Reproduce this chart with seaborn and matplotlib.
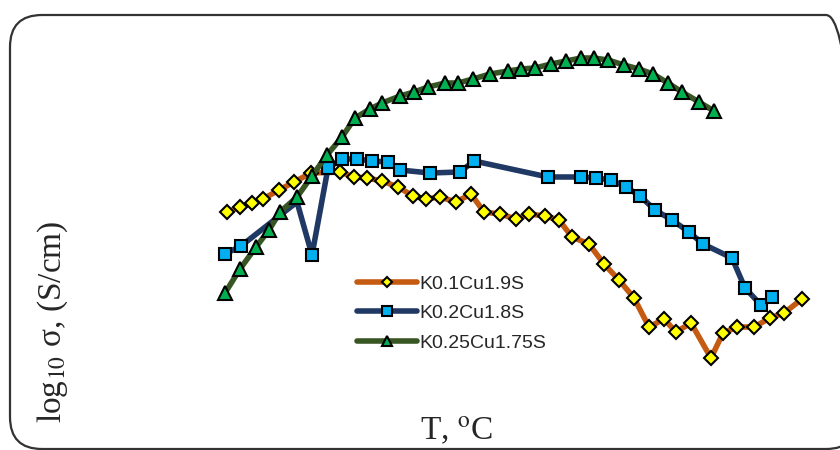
import matplotlib
matplotlib.use('Agg')
import matplotlib.pyplot as plt
import seaborn as sns
from matplotlib.patches import FancyBboxPatch

# values (no scale given, so arbitrary units: T position, log sigma level)
t_k01 = [227, 240, 252, 263, 279, 294, 311, 340, 354, 367, 382, 398, 413, 426, 440, 456, 471, 484, 500, 516,
         529, 545, 559, 572, 589, 604, 619, 634, 649, 664, 676, 691, 711, 723, 737, 754, 770, 784, 802]
s_k01 = [238, 243, 247, 251, 260, 268, 277, 278, 273, 272, 269, 263, 254, 251, 253, 248, 256, 238, 236, 231,
         236, 234, 230, 213, 206, 186, 170, 152, 123, 131, 118, 127, 92, 117, 123, 123, 132, 137, 151]

t_k02 = [225, 241, 297, 312, 328, 342, 357, 372, 388, 400, 430, 460, 474, 548, 581, 596, 611, 626, 640, 655,
         672, 689, 703, 732, 745, 761, 772]
s_k02 = [196, 204, 248, 195, 282, 291, 291, 289, 288, 280, 277, 278, 289, 273, 273, 272, 270, 263, 254, 240,
         230, 218, 206, 192, 162, 145, 153]

t_k025 = [225, 240, 256, 269, 280, 297, 312, 327, 342, 355, 370, 382, 400, 414, 428, 445, 458, 473, 490, 508,
          521, 535, 551, 566, 581, 594, 608, 624, 639, 653, 668, 682, 699, 714]
s_k025 = [157, 181, 203, 220, 238, 253, 274, 295, 313, 332, 341, 347, 354, 358, 363, 367, 367, 371, 376, 379,
          381, 382, 386, 389, 392, 392, 390, 385, 381, 376, 367, 358, 348, 339]

labels = ['K0.1Cu1.9S', 'K0.2Cu1.8S', 'K0.25Cu1.75S']

sns.set_theme(style='white')
plt.rcParams['font.family'] = ['Liberation Sans', 'DejaVu Sans']
plt.rcParams['mathtext.fontset'] = 'stix'

fig = plt.figure(figsize=(8.4, 4.5), dpi=100)
ax = fig.add_axes([0, 0, 1, 1])

common = dict(linewidth=4, markeredgecolor='black', markeredgewidth=1.5, estimator=None, sort=False)
sns.lineplot(x=t_k01, y=s_k01, ax=ax, color='#C55A11', marker='D', markersize=7,
             markerfacecolor='#FFFF00', label=labels[0], **common)
# third blue point sits hidden under a green triangle, so no marker there
blue_marks = [i for i in range(len(t_k02)) if i != 2]
sns.lineplot(x=t_k02, y=s_k02, ax=ax, color='#203864', marker='s', markersize=8.5,
             markerfacecolor='#00B0F0', markevery=blue_marks, label=labels[1], **common)
sns.lineplot(x=t_k025, y=s_k025, ax=ax, color='#375623', marker='^', markersize=9.5,
             markerfacecolor='#00B050', label=labels[2], **common)

ax.set_xlim(0, 840)
ax.set_ylim(0, 450)
ax.axis('off')

leg = ax.legend(loc='upper left', bbox_to_anchor=(0.425, 0.388), frameon=False, fontsize=14,
                handlelength=3.1, handletextpad=0.1, labelspacing=0.6, borderpad=0, borderaxespad=0)
for h, ms in zip(leg.legend_handles, [5, 6.5, 7]):
    h.set_markevery([1])
    h.set_markersize(ms)

# rounded frame around the chart area
frame = FancyBboxPatch((0.10, 0.01), 8.48, 4.34, boxstyle='round,pad=0,rounding_size=0.32',
                       transform=fig.dpi_scale_trans, fill=False, edgecolor='#333333', linewidth=1.6)
fig.patches.append(frame)

serif = ['Liberation Serif', 'DejaVu Serif']
fig.text(53 / 840, 1 - 322 / 450, r'log$_{10}$ σ, (S/cm)', rotation=90, ha='center', va='center',
         fontsize=24, family=serif)
fig.text(457 / 840, 1 - 430 / 450, r'T, $^{\mathrm{o}}$C', ha='center', va='center', fontsize=24, family=serif)

fig.savefig('out.png', dpi=100)
